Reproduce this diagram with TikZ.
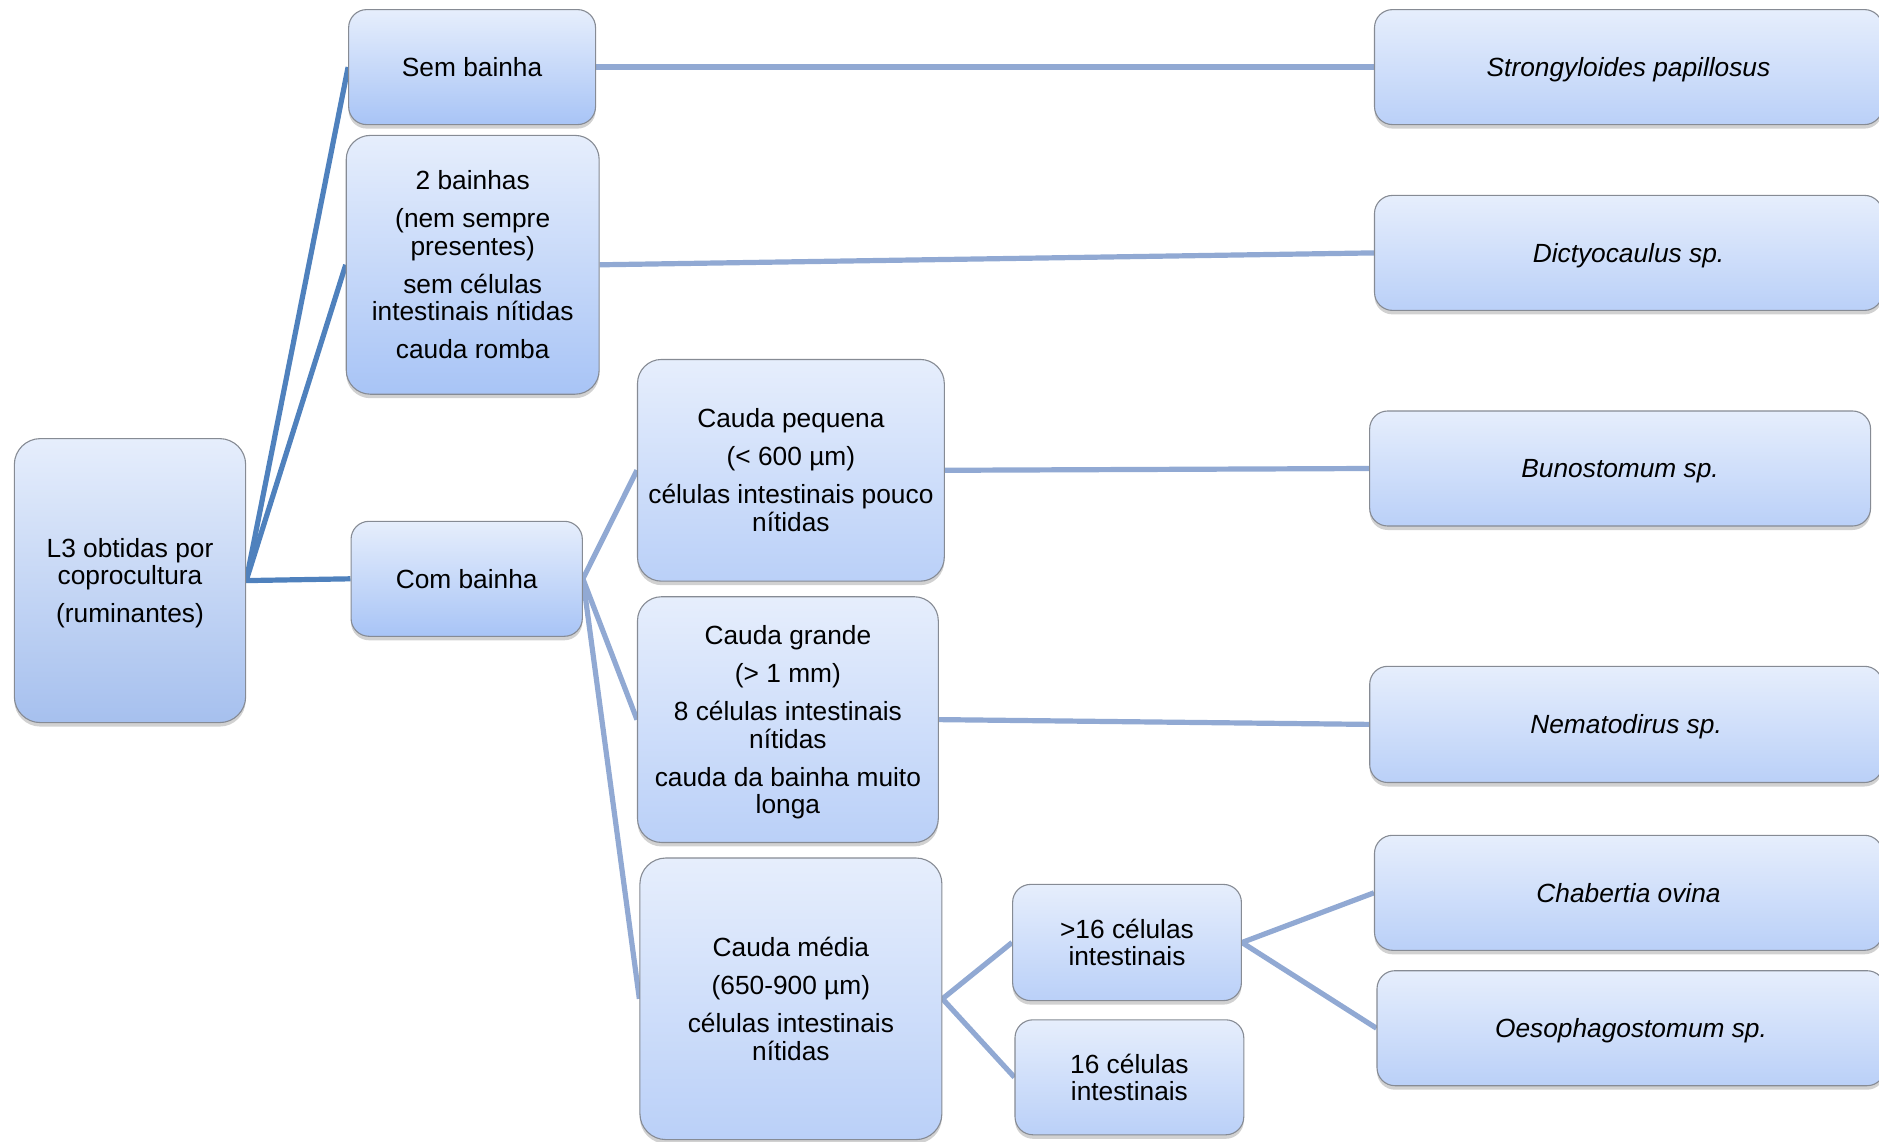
\documentclass[tikz,border=0pt]{standalone}
\usepackage{fontspec}
\setmainfont{Liberation Sans}
\usetikzlibrary{shadows,backgrounds}
\definecolor{lineA}{HTML}{4F81BD}
\definecolor{lineB}{HTML}{91A9D3}
\definecolor{boxTop}{HTML}{E6EEFC}
\definecolor{boxBot}{HTML}{A8C4F6}
\definecolor{boxBotR}{HTML}{A6C0EE}
\definecolor{boxBotL}{HTML}{BAD0F8}
\definecolor{boxBorder}{HTML}{868B94}
\newcommand{\nodp}[1]{\raisebox{0pt}[\height][0pt]{#1}}
\tikzset{
  box/.style={rectangle, rounded corners=18pt, draw=boxBorder, line width=1.1pt,
    top color=boxTop, bottom color=boxBot, align=center, inner sep=0pt,
    font=\fontsize{26.3}{27.6}\selectfont,
    drop shadow={shadow xshift=0pt, shadow yshift=-4pt, fill=black, opacity=0.18}},
  leafbox/.style={box, bottom color=boxBotL, text depth=0pt, font=\fontsize{26.3}{27.6}\selectfont\itshape},
  linkA/.style={draw=lineA, line width=5.2pt},
  linkB/.style={draw=lineB, line width=5.2pt},
}
\begin{document}
\begin{tikzpicture}[x=1pt, y=-1pt]
\clip (0,0) rectangle (1879,1142);
% level 0
\node[box, rounded corners=26pt, bottom color=boxBotR, minimum width=231.3pt, minimum height=284pt] (l3) at (130,580.6)
  {L3 obtidas por\\coprocultura\\[10.4pt]\nodp{(ruminantes)}};
% level 1
\node[box, minimum width=246.9pt, minimum height=115pt] (sem) at (472.1,67.1) {Sem bainha};
\node[box, rounded corners=24pt, minimum width=252.9pt, minimum height=258.8pt] (duas) at (472.7,264.8)
  {2 bainhas\\[10.4pt](nem sempre\\presentes)\\[10.4pt]sem células\\intestinais nítidas\\[10.4pt]cauda romba};
\node[box, minimum width=231.3pt, minimum height=115pt] (com) at (466.7,578.8) {Com bainha};
% level 2
\node[box, rounded corners=24pt, bottom color=boxBotL, minimum width=306.8pt, minimum height=221.7pt] (peq) at (790.9,470.3)
  {Cauda pequena\\[10.4pt](< 600 µm)\\[10.4pt]células intestinais pouco\\nítidas};
\node[box, rounded corners=24pt, bottom color=boxBotL, minimum width=300.8pt, minimum height=245.7pt] (gra) at (787.9,719.6)
  {Cauda grande\\[10.4pt](> 1 mm)\\[10.4pt]8 células intestinais\\nítidas\\[10.4pt]cauda da bainha muito\\\nodp{longa}};
\node[box, rounded corners=26pt, bottom color=boxBotL, minimum width=302pt, minimum height=281.6pt] (med) at (790.9,998.8)
  {Cauda média\\[10.4pt](650-900 µm)\\[10.4pt]células intestinais\\nítidas};
% level 3
\node[box, bottom color=boxBotL, minimum width=228.8pt, minimum height=116.2pt] (mais) at (1127,942.5) {>16 células\\intestinais};
\node[box, bottom color=boxBotL, minimum width=228.8pt, minimum height=115pt] (dez) at (1129.4,1077.3) {16 células\\intestinais};
% leaves
\node[leafbox, minimum width=508pt, minimum height=115pt] (stro) at (1628.5,67.1) {Strongyloides papillosus};
\node[leafbox, minimum width=508pt, minimum height=115pt] (dict) at (1628.5,252.9) {Dictyocaulus sp.};
\node[leafbox, minimum width=500.9pt, minimum height=115pt] (buno) at (1620.1,468.5) {Bunostomum sp.};
\node[leafbox, minimum width=512.8pt, minimum height=116.2pt] (nema) at (1626.1,724.4) {Nematodirus sp.};
\node[leafbox, minimum width=508pt, minimum height=115pt] (chab) at (1628.5,892.8) {Chabertia ovina};
\node[leafbox, minimum width=508pt, minimum height=115pt] (oeso) at (1631,1028.2) {Oesophagostomum sp.};
% connectors
\begin{scope}[on background layer]
\draw[linkA] (l3.east) -- (sem.west);
\draw[linkA] (l3.east) -- (duas.west);
\draw[linkA] (l3.east) -- (com.west);
\draw[linkB] (sem.east) -- (stro.west);
\draw[linkB] (duas.east) -- (dict.west);
\draw[linkB] (com.east) -- (peq.west);
\draw[linkB] (com.east) -- (gra.west);
\draw[linkB] (com.east) -- (med.west);
\draw[linkB] (peq.east) -- (buno.west);
\draw[linkB] (gra.east) -- (nema.west);
\draw[linkB] (med.east) -- (mais.west);
\draw[linkB] (med.east) -- (dez.west);
\draw[linkB] (mais.east) -- (chab.west);
\draw[linkB] (mais.east) -- (oeso.west);
\end{scope}
\end{tikzpicture}
\end{document}
